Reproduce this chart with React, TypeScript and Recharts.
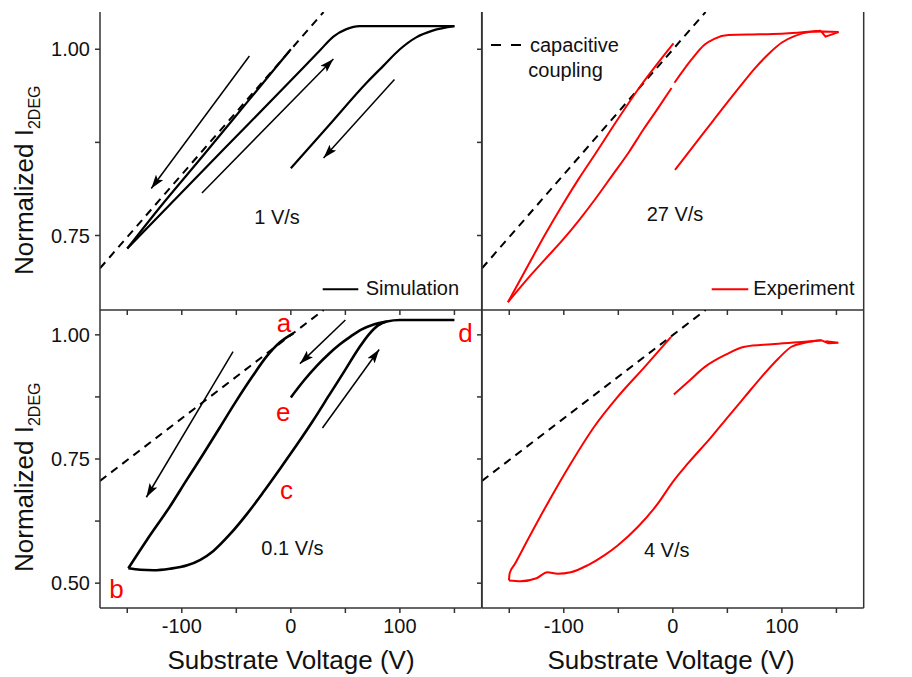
import { Line, LineChart, XAxis, YAxis } from 'recharts'

type Pt = [number, number]

const FONT = '"Liberation Sans", Arial, sans-serif'

const X_DOMAIN = [-175, 175]
const X_TICKS = [-150, -100, -50, 0, 50, 100, 150]
const X_LABELED = [-100, 0, 100]
const Y_TICKS_TOP = [0.75, 0.875, 1.0]
const Y_TICKS_BOTTOM = [0.5, 0.625, 0.75, 0.875, 1.0]
const Y_LABELED = [0.5, 0.75, 1.0]

// capacitive coupling line, the same in every panel
const capacitive: Pt[] = [[-175, 0.706], [30, 1.05]]

// simulation, 1 V/s
const sim1Down: Pt[] = [[-150, 0.7325], [-120, 0.788], [-80, 0.858], [-40, 0.929], [0, 1.0]]
const sim1Up: Pt[] = [[-150, 0.7325], [-60, 0.868], [0, 0.958], [27, 0.999], [39, 1.017], [51, 1.027], [63, 1.031], [150, 1.031]]
const sim1Back: Pt[] = [[0, 0.8404], [35, 0.898], [69.5, 0.955], [85, 0.978], [100, 1.0], [115, 1.016], [130, 1.025], [150, 1.031]]
const sim1Arrows: Pt[][] = [
  [[-38, 0.991], [-128, 0.813]],
  [[-81.5, 0.807], [39, 0.987]],
  [[95, 0.9595], [30, 0.854]],
]

// experiment, 27 V/s (the up sweep has a small gap at 0 V)
const exp27Down: Pt[] = [[-151.2, 0.6605], [-131.9, 0.7122], [-116.6, 0.7527], [-101.2, 0.791], [-85.9, 0.827], [-70.6, 0.8607], [-56.8, 0.892], [-29, 0.952], [0.6, 1.008]]
const exp27UpLow: Pt[] = [[-151.2, 0.6605], [-131.9, 0.6942], [-116.6, 0.719], [-101.2, 0.7437], [-85.9, 0.7707], [-70.6, 0.8], [-55.2, 0.8314], [-39.9, 0.8628], [-27.6, 0.891], [-14, 0.92], [-1.2, 0.948]]
const exp27UpHigh: Pt[] = [[1.5, 0.955], [17, 0.986], [29, 1.006], [38, 1.014], [51, 1.019], [80, 1.02], [103, 1.021], [121, 1.023], [136, 1.025]]
const exp27Turn: Pt[] = [[130, 1.024], [152, 1.023], [140, 1.017], [136, 1.024]]
const exp27Back: Pt[] = [[2, 0.838], [30, 0.891], [60, 0.947], [75, 0.974], [88, 0.994], [100, 1.009], [112, 1.018], [125, 1.023], [136, 1.024]]

// simulation, 0.1 V/s
const sim01Upper: Pt[] = [[-149, 0.53], [-132, 0.587], [-111, 0.654], [-95.5, 0.708], [-80, 0.761], [-65, 0.814], [-50, 0.867], [-35, 0.917], [-22, 0.957], [-10, 0.985], [2.2, 1.003]]
const sim01Lower: Pt[] = [[-149, 0.53], [-138, 0.527], [-126, 0.526], [-111, 0.529], [-95, 0.536], [-83, 0.547], [-71, 0.565], [-56, 0.598], [-40, 0.64], [-25, 0.684], [-10, 0.73], [5, 0.777], [20, 0.826], [35, 0.878], [50, 0.93], [62, 0.972], [72, 1.002], [80, 1.019], [88, 1.027], [100, 1.03], [150, 1.03]]
const sim01Back: Pt[] = [[0, 0.874], [12, 0.908], [24, 0.938], [35, 0.962], [45, 0.981], [55, 0.997], [65, 1.011], [76, 1.021], [88, 1.027]]
const sim01Arrows: Pt[][] = [
  [[-53, 0.966], [-132.5, 0.673]],
  [[50, 1.03], [8.3, 0.942]],
  [[29, 0.8125], [81, 0.9706]],
]

// experiment, 4 V/s
const exp4Down: Pt[] = [[-150.3, 0.5055], [-149.6, 0.52], [-145, 0.538], [-133.4, 0.586], [-115, 0.66], [-93.6, 0.741], [-72.1, 0.815], [-50.6, 0.875], [-26, 0.935], [-1.6, 0.996]]
const exp4Lower: Pt[] = [[-150.3, 0.5055], [-139.6, 0.504], [-125, 0.51], [-115, 0.522], [-105.8, 0.519], [-93.6, 0.522], [-78.2, 0.536], [-62.9, 0.556], [-50.6, 0.576], [-32.2, 0.613], [-13.8, 0.66], [0, 0.704], [13.8, 0.741], [35.2, 0.794], [50.6, 0.835], [65.9, 0.875], [81.2, 0.915], [96.6, 0.952], [108.8, 0.976], [121, 0.984], [136.4, 0.989]]
const exp4Turn: Pt[] = [[136.4, 0.989], [142.6, 0.983], [151.8, 0.984], [140, 0.987]]
const exp4Back: Pt[] = [[0.9, 0.88], [13.8, 0.905], [29.1, 0.935], [47.5, 0.959], [65.9, 0.976], [90.4, 0.981], [121, 0.986], [136.4, 0.989]]

const toRows = (p: Pt[]) => p.map(([v, i]) => ({ v, i }))

interface Series {
  data: Pt[]
  color: string
  width: number
  dash?: string
  curve?: 'linear' | 'monotone'
}

interface PanelProps {
  id: string
  left: number
  top: number
  yDomain: number[]
  yTicks: number[]
  labelsLeft: boolean
  labelsRight: boolean
  labelsX: boolean
  upper: boolean
  series: Series[]
  arrows: Pt[][]
}

const PLOT_W = 381.7
const PLOT_H = 298
const AX_W = 60
const MT = 10
const XH = 40
const AXIS_COLOR = '#333'
const INK = '#111'
const tickStyle = { fontSize: 20, fill: INK, fontFamily: FONT }
const axisLine = { stroke: AXIS_COLOR, strokeWidth: 1.5 }

function Panel(p: PanelProps) {
  const xFmt = (v: number) => (p.labelsX && X_LABELED.includes(v) ? String(v) : '')
  const yFmt = (on: boolean) => (v: number) => (on && Y_LABELED.includes(v) ? v.toFixed(2) : '')
  return (
    <div style={{ position: 'absolute', left: p.left - AX_W, top: p.top - MT }}>
      <LineChart
        width={PLOT_W + 2 * AX_W}
        height={PLOT_H + MT + XH}
        margin={{ top: MT, right: 0, bottom: 0, left: 0 }}
      >
        <defs>
          <marker
            id={`head-${p.id}`}
            viewBox="0 0 14 9"
            refX="14"
            refY="4.5"
            markerWidth="14"
            markerHeight="9"
            markerUnits="userSpaceOnUse"
            orient="auto"
          >
            <path d="M0,0 L14,4.5 L0,9 L3,4.5 z" fill="#000" />
          </marker>
        </defs>
        <XAxis
          dataKey="v"
          type="number"
          domain={X_DOMAIN}
          ticks={X_TICKS}
          interval={0}
          height={XH}
          tickSize={5}
          tickMargin={6}
          tickFormatter={xFmt}
          tick={tickStyle}
          axisLine={axisLine}
          tickLine={axisLine}
          allowDataOverflow
        />
        <XAxis
          xAxisId="top"
          orientation="top"
          type="number"
          domain={X_DOMAIN}
          ticks={X_TICKS}
          interval={0}
          height={0}
          tickSize={p.upper ? -5 : 0}
          tickFormatter={() => ''}
          axisLine={axisLine}
          tickLine={axisLine}
        />
        <YAxis
          dataKey="i"
          type="number"
          domain={p.yDomain}
          ticks={p.yTicks}
          interval={0}
          width={AX_W}
          tickSize={5}
          tickMargin={5}
          tickFormatter={yFmt(p.labelsLeft)}
          tick={tickStyle}
          axisLine={axisLine}
          tickLine={axisLine}
          allowDataOverflow
        />
        <YAxis
          yAxisId="right"
          orientation="right"
          type="number"
          domain={p.yDomain}
          ticks={p.yTicks}
          interval={0}
          width={AX_W}
          tickSize={p.labelsRight ? -5 : 0}
          tickMargin={11}
          tickFormatter={yFmt(p.labelsRight)}
          tick={tickStyle}
          axisLine={axisLine}
          tickLine={axisLine}
        />
        {p.series.map((s, k) => (
          <Line
            key={`s${k}`}
            data={toRows(s.data)}
            dataKey="i"
            type={s.curve ?? 'monotone'}
            stroke={s.color}
            strokeWidth={s.width}
            strokeDasharray={s.dash}
            dot={false}
            activeDot={false}
            isAnimationActive={false}
          />
        ))}
        {p.arrows.map((a, k) => (
          <Line
            key={`a${k}`}
            data={toRows(a)}
            dataKey="i"
            type="linear"
            stroke="#000"
            strokeWidth={1.5}
            markerEnd={`url(#head-${p.id})`}
            dot={false}
            activeDot={false}
            isAnimationActive={false}
          />
        ))}
      </LineChart>
    </div>
  )
}

const dashed: Series = { data: capacitive, color: '#000', width: 2, dash: '8 6', curve: 'linear' }
const black = (data: Pt[], width = 2.2): Series => ({ data, color: '#000', width })
const red = (data: Pt[]): Series => ({ data, color: '#ff0000', width: 2 })

function YTitle({ x, y }: { x: number; y: number }) {
  return (
    <text transform={`translate(${x},${y}) rotate(-90)`} fontSize={26} fill={INK}>
      Normalized I
      <tspan fontSize={16} dy={7}>2DEG</tspan>
    </text>
  )
}

export default function App() {
  return (
    <div style={{ position: 'absolute', left: 0, top: 0, width: 912, height: 677, fontFamily: FONT, background: '#fff' }}>
      <Panel
        id="tl"
        left={100}
        top={12}
        yDomain={[0.65, 1.05]}
        yTicks={Y_TICKS_TOP}
        labelsLeft
        labelsRight={false}
        labelsX={false}
        upper
        series={[dashed, black(sim1Down), black(sim1Up), black(sim1Back)]}
        arrows={sim1Arrows}
      />
      <Panel
        id="tr"
        left={481.7}
        top={12}
        yDomain={[0.65, 1.05]}
        yTicks={Y_TICKS_TOP}
        labelsLeft={false}
        labelsRight
        labelsX={false}
        upper
        series={[dashed, red(exp27Down), red(exp27UpLow), red(exp27UpHigh), { ...red(exp27Turn), curve: 'linear' }, red(exp27Back)]}
        arrows={[]}
      />
      <Panel
        id="bl"
        left={100}
        top={310}
        yDomain={[0.45, 1.05]}
        yTicks={Y_TICKS_BOTTOM}
        labelsLeft
        labelsRight={false}
        labelsX
        upper={false}
        series={[dashed, black(sim01Upper, 2.6), black(sim01Lower, 2.6), black(sim01Back, 2.6)]}
        arrows={sim01Arrows}
      />
      <Panel
        id="br"
        left={481.7}
        top={310}
        yDomain={[0.45, 1.05]}
        yTicks={Y_TICKS_BOTTOM}
        labelsLeft={false}
        labelsRight
        labelsX
        upper={false}
        series={[dashed, red(exp4Down), red(exp4Lower), { ...red(exp4Turn), curve: 'linear' }, red(exp4Back)]}
        arrows={[]}
      />
      <svg
        width={912}
        height={677}
        style={{ position: 'absolute', left: 0, top: 0, pointerEvents: 'none' }}
        fontFamily={FONT}
      >
        <YTitle x={33} y={275} />
        <YTitle x={33} y={572} />
        <text x={291} y={669} fontSize={26} fill={INK} textAnchor="middle">Substrate Voltage (V)</text>
        <text x={671} y={669} fontSize={26} fill={INK} textAnchor="middle">Substrate Voltage (V)</text>

        <text x={277} y={224} fontSize={20} fill={INK} textAnchor="middle">1 V/s</text>
        <text x={675} y={221} fontSize={20} fill={INK} textAnchor="middle">27 V/s</text>
        <text x={292.5} y={555} fontSize={20} fill={INK} textAnchor="middle">0.1 V/s</text>
        <text x={666.7} y={556.7} fontSize={20} fill={INK} textAnchor="middle">4 V/s</text>

        <line x1={322.7} x2={358.3} y1={289.3} y2={289.3} stroke="#000" strokeWidth={2} />
        <text x={365.7} y={295} fontSize={20} fill={INK}>Simulation</text>
        <line x1={711.7} x2={748.3} y1={289.3} y2={289.3} stroke="#ff0000" strokeWidth={2} />
        <text x={753.3} y={295} fontSize={20} fill={INK}>Experiment</text>
        <line x1={491} x2={522} y1={45} y2={45} stroke="#000" strokeWidth={2} strokeDasharray="10 10" />
        <text x={530} y={52} fontSize={20} fill={INK}>capacitive</text>
        <text x={528.3} y={77} fontSize={20} fill={INK}>coupling</text>

        <text x={276.7} y={331.7} fontSize={26} fill="#ff0000">a</text>
        <text x={109.3} y={597.7} fontSize={26} fill="#ff0000">b</text>
        <text x={280} y={499.3} fontSize={26} fill="#ff0000">c</text>
        <text x={458.3} y={341.7} fontSize={26} fill="#ff0000">d</text>
        <text x={276} y={420.7} fontSize={26} fill="#ff0000">e</text>
      </svg>
    </div>
  )
}
